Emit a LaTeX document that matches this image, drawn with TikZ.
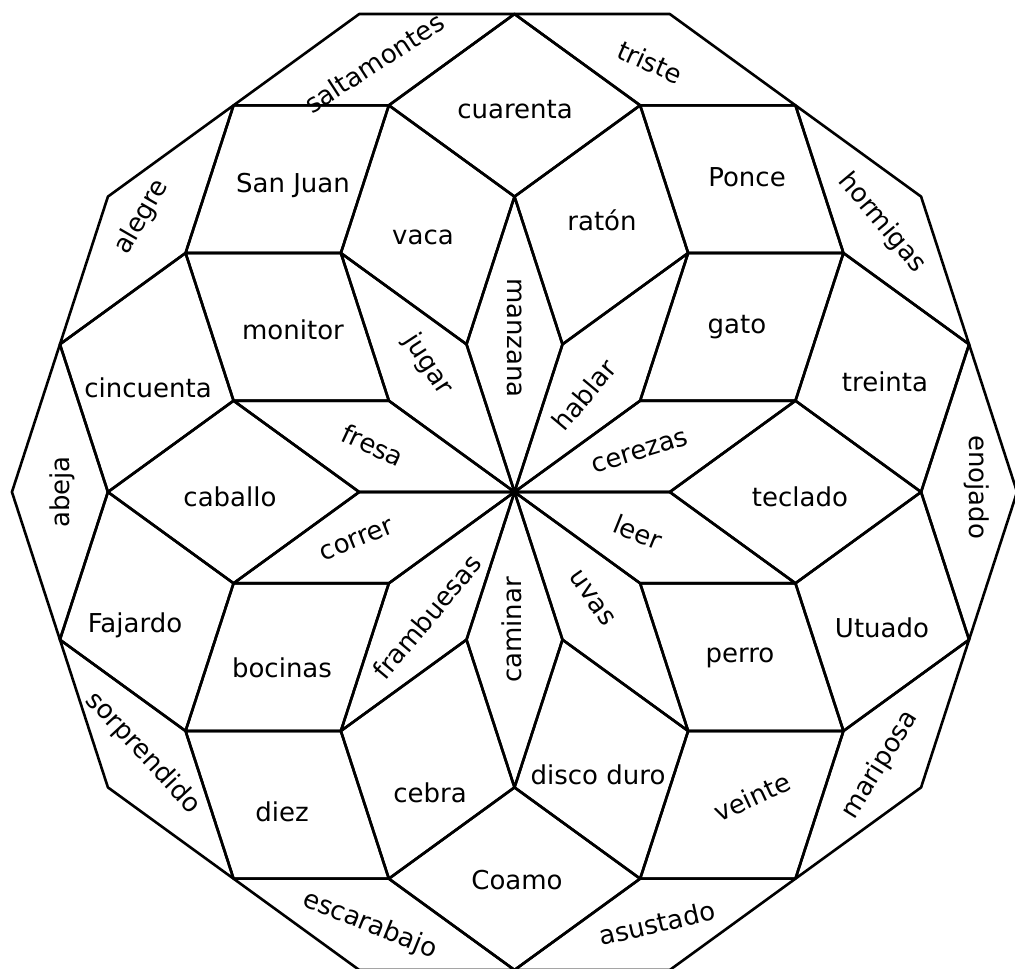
\documentclass[tikz,border=0pt]{standalone}
\usepackage{fontspec}
\setmainfont{DejaVu Sans}
\begin{document}
\begin{tikzpicture}[x=1pt,y=1pt,
  tile/.style={draw=black,line width=2.6pt,line join=round},
  lbl/.style={font=\fontsize{26}{29}\selectfont,inner sep=0pt}]
\useasboundingbox (0,0) rectangle (1015,-969);
\def\s{155.3}
\coordinate (C) at (514.5,-492);
\foreach \k in {0,36,...,324}{
  % center star of thin rhombi
  \draw[tile] (C) -- ++(\k:\s) -- ++(\k+36:\s) -- ++(\k:-\s) -- cycle;
  % ring of fat rhombi
  \draw[tile] (C) ++(\k:\s) -- ++(\k-36:\s) -- ++(\k+36:\s) -- ++(\k-36:-\s) -- cycle;
  % third ring of fat rhombi
  \draw[tile] (C) ++(\k:\s) ++(\k+36:\s) -- ++(\k-36:\s) -- ++(\k+72:\s) -- ++(\k-36:-\s) -- cycle;
  % outer ring of thin rhombi
  \draw[tile] (C) ++(\k:\s) ++(\k+36:\s) ++(\k+72:\s) -- ++(\k-36:\s) -- ++(\k+108:\s) -- ++(\k-36:-\s) -- cycle;
}
\fill (C) circle (4);
% labels
\node[lbl,rotate=33] (saltamontes) at (374,-63) {saltamontes};
\node[lbl,rotate=-24] (triste) at (650,-62) {triste};
\node[lbl] (cuarenta) at (515,-110) {cuarenta};
\node[lbl] (sanjuan) at (293,-185) {San Juan};
\node[lbl,rotate=60] (alegre) at (142,-217) {alegre};
\node[lbl] (vaca) at (423,-237) {vaca};
\node[lbl] (raton) at (602,-220) {ratón};
\node[lbl] (ponce) at (747,-177) {Ponce};
\node[lbl,rotate=-50] (hormigas) at (882,-223) {hormigas};
\node[lbl] (monitor) at (293,-330) {monitor};
\node[lbl,rotate=-57] (jugar) at (428,-365) {jugar};
\node[lbl,rotate=-90] (manzana) at (515,-338) {manzana};
\node[lbl,rotate=50] (hablar) at (584,-395) {hablar};
\node[lbl] (gato) at (737,-327) {gato};
\node[lbl] (treinta) at (885,-382) {treinta};
\node[lbl] (cincuenta) at (148,-388) {cincuenta};
\node[lbl,rotate=-25] (fresa) at (373,-445) {fresa};
\node[lbl,rotate=17] (cerezas) at (640,-452) {cerezas};
\node[lbl,rotate=90] (abeja) at (62,-492) {abeja};
\node[lbl] (caballo) at (230,-497) {caballo};
\node[lbl] (teclado) at (800,-497) {teclado};
\node[lbl,rotate=-90] (enojado) at (977,-487) {enojado};
\node[lbl,rotate=22] (correr) at (357,-540) {correr};
\node[lbl,rotate=-22] (leer) at (638,-532) {leer};
\node[lbl,rotate=50] (frambuesas) at (427,-617) {frambuesas};
\node[lbl,rotate=90] (caminar) at (512,-630) {caminar};
\node[lbl,rotate=-55] (uvas) at (592,-598) {uvas};
\node[lbl] (fajardo) at (135,-625) {Fajardo};
\node[lbl] (bocinas) at (282,-668) {bocinas};
\node[lbl] (perro) at (740,-658) {perro};
\node[lbl] (utuado) at (882,-628) {Utuado};
\node[lbl,rotate=-47] (sorprendido) at (143,-753) {sorprendido};
\node[lbl] (diez) at (282,-812) {diez};
\node[lbl] (cebra) at (430,-793) {cebra};
\node[lbl] (discoduro) at (598,-775) {disco duro};
\node[lbl,rotate=25] (veinte) at (752,-797) {veinte};
\node[lbl,rotate=58] (mariposa) at (880,-765) {mariposa};
\node[lbl] (coamo) at (517,-880) {Coamo};
\node[lbl,rotate=-22] (escarabajo) at (370,-925) {escarabajo};
\node[lbl,rotate=13] (asustado) at (657,-923) {asustado};
\end{tikzpicture}
\end{document}
